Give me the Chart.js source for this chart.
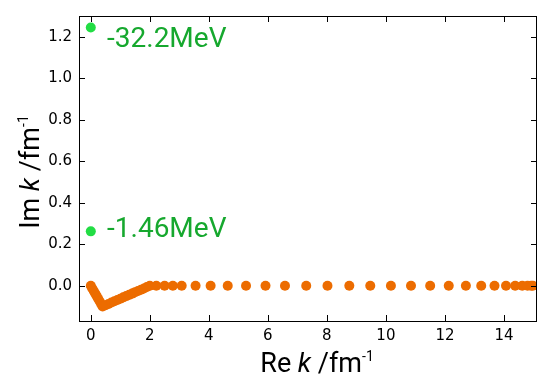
<!DOCTYPE html>
<html>
<head>
<meta charset="utf-8">
<script src="https://cdn.jsdelivr.net/npm/chart.js@4"></script>
<style>
  html, body { margin: 0; padding: 0; background: #fff; }
  #wrap { width: 542px; height: 377px; }
</style>
</head>
<body>
<div id="wrap"><canvas id="poles"></canvas></div>
<script>
// dense part of the contour (rotated/deformed path in the lower half plane)
const denseRe = [0, 0.05, 0.1, 0.15, 0.2, 0.25, 0.3, 0.35, 0.4, 0.5, 0.6, 0.7, 0.8, 0.9, 1.0, 1.1, 1.2, 1.3, 1.4, 1.5, 1.6, 1.7, 1.8, 1.9, 2.0];
const denseIm = [0, -0.013, -0.025, -0.038, -0.05, -0.063, -0.075, -0.088, -0.1, -0.094, -0.088, -0.081, -0.075, -0.069, -0.063, -0.056, -0.05, -0.044, -0.038, -0.031, -0.025, -0.019, -0.013, -0.006, 0];
// mesh points on the real axis
const meshRe = [2.22, 2.5, 2.78, 3.08, 3.55, 4.06, 4.64, 5.26, 5.92, 6.58, 7.3, 8.02, 8.76, 9.47, 10.17, 10.85, 11.5, 12.13, 12.71, 13.23, 13.68, 14.07, 14.38, 14.62, 14.8, 14.92, 14.98];
// bound states
const boundRe = [0, 0];
const boundIm = [1.245, 0.262];
const boundText = ['-32.2MeV', '-1.46MeV'];
const boundTextRe = [0.55, 0.55];
const boundTextIm = [1.185, 0.27];

const xTicks = [0, 2, 4, 6, 8, 10, 12, 14];
const yTicks = [0.0, 0.2, 0.4, 0.6, 0.8, 1.0, 1.2];

const contourPts = denseRe.map((x, i) => ({ x: x, y: denseIm[i] }))
    .concat(meshRe.map(x => ({ x: x, y: 0 })));
const boundPts = boundRe.map((x, i) => ({ x: x, y: boundIm[i] }));

const tickFont = { family: 'DejaVu Sans', size: 15 };

// frame + inward ticks on all four sides, axis titles, level labels
const decorations = {
    id: 'decorations',
    afterDraw(chart) {
        const ctx = chart.ctx;
        const a = chart.chartArea;
        const xs = chart.scales.x, ys = chart.scales.y;
        ctx.save();
        ctx.strokeStyle = '#000';
        ctx.lineWidth = 1;
        ctx.strokeRect(Math.round(a.left) + 0.5, Math.round(a.top) + 0.5,
            Math.round(a.right - a.left) - 1, Math.round(a.bottom - a.top));
        const len = 6;
        ctx.beginPath();
        xTicks.forEach(v => {
            const px = Math.round(xs.getPixelForValue(v)) + 0.5;
            ctx.moveTo(px, a.bottom); ctx.lineTo(px, a.bottom - len);
            ctx.moveTo(px, a.top); ctx.lineTo(px, a.top + len);
        });
        yTicks.forEach(v => {
            const py = Math.round(ys.getPixelForValue(v)) + 0.5;
            ctx.moveTo(a.left, py); ctx.lineTo(a.left + len, py);
            ctx.moveTo(a.right, py); ctx.lineTo(a.right - len, py);
        });
        ctx.stroke();

        // level labels
        ctx.fillStyle = '#16a82e';
        ctx.font = '28px Roboto';
        ctx.textAlign = 'left';
        ctx.textBaseline = 'middle';
        boundText.forEach((t, i) => {
            ctx.fillText(t, xs.getPixelForValue(boundTextRe[i]), ys.getPixelForValue(boundTextIm[i]));
        });

        // axis titles with italic k and superscript -1
        const parts = [
            { t: ' k', f: 'italic 27px Roboto', dy: 0 },
            { t: ' /fm', f: '27px Roboto', dy: 0 },
            { t: '-1', f: '14px Roboto', dy: -11 }
        ];
        function drawTitle(first, cx, cy, rot) {
            const seq = [{ t: first, f: '27px Roboto', dy: 0 }].concat(parts);
            let total = 0;
            seq.forEach(p => { ctx.font = p.f; p.w = ctx.measureText(p.t).width; total += p.w; });
            ctx.save();
            ctx.translate(cx, cy);
            ctx.rotate(rot);
            ctx.fillStyle = '#000';
            ctx.textAlign = 'left';
            ctx.textBaseline = 'alphabetic';
            let x = -total / 2;
            seq.forEach(p => { ctx.font = p.f; ctx.fillText(p.t, x, 10 + p.dy); x += p.w; });
            ctx.restore();
        }
        drawTitle('Re', 317, 362, 0);
        drawTitle('Im', 29, 172, -Math.PI / 2);
        ctx.restore();
    }
};

new Chart(document.getElementById('poles'), {
    type: 'scatter',
    data: {
        datasets: [
            { data: contourPts, backgroundColor: '#ec6c00', borderWidth: 0, pointRadius: 5, pointHoverRadius: 5 },
            { data: boundPts, backgroundColor: '#22dd44', borderWidth: 0, pointRadius: 5, pointHoverRadius: 5, clip: false }
        ]
    },
    options: {
        responsive: true,
        maintainAspectRatio: false,
        animation: false,
        layout: { padding: { top: 10, right: 3, left: 0, bottom: 0 } },
        plugins: { legend: { display: false }, tooltip: { enabled: false } },
        scales: {
            x: {
                type: 'linear', min: -0.4, max: 15.12,
                grid: { display: false, drawTicks: false },
                border: { display: false },
                afterFit: s => { s.height = 56; },
                ticks: { stepSize: 2, includeBounds: false, font: tickFont, color: '#000', padding: 6,
                    maxRotation: 0, autoSkip: false, callback: v => String(v) }
            },
            y: {
                type: 'linear', min: -0.17, max: 1.30,
                grid: { display: false, drawTicks: false },
                border: { display: false },
                afterFit: s => { s.width = 79; },
                ticks: { stepSize: 0.2, includeBounds: false, font: tickFont, color: '#000', padding: 7,
                    autoSkip: false, callback: v => v.toFixed(1) }
            }
        }
    },
    plugins: [decorations]
});
</script>
</body>
</html>
